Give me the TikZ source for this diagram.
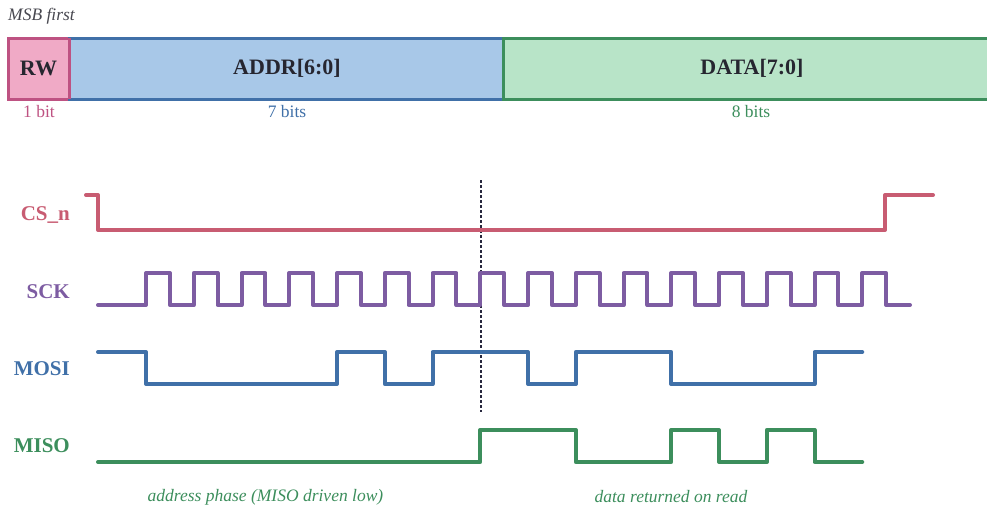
\documentclass[tikz,border=0pt]{standalone}
\usepackage{fontspec}
\setmainfont{Liberation Serif}
\begin{document}
\definecolor{csred}{RGB}{200,92,114}
\definecolor{rwline}{RGB}{190,82,130}
\definecolor{rwfill}{RGB}{240,170,198}
\definecolor{sckpurple}{RGB}{125,92,162}
\definecolor{mosiblue}{RGB}{64,112,168}
\definecolor{addrfill}{RGB}{168,200,232}
\definecolor{misogreen}{RGB}{60,142,92}
\definecolor{datafill}{RGB}{184,228,200}
\definecolor{marker}{RGB}{40,40,62}
\definecolor{inktext}{RGB}{38,38,48}
\begin{tikzpicture}[x=1pt,y=-1pt,
  field/.style={line width=3pt},
  fieldtext/.style={font=\fontsize{22}{26}\selectfont\bfseries, text=inktext},
  widthtext/.style={font=\fontsize{17.5}{21}\selectfont},
  siglabel/.style={anchor=base east, inner xsep=0pt, font=\fontsize{21}{25}\selectfont\bfseries},
  wave/.style={line width=4pt, line join=round, line cap=round},
  phasetext/.style={font=\fontsize{17.5}{21}\selectfont\itshape, text=misogreen}]
\clip (0,0) rectangle (987,509);

% frame layout: RW | ADDR[6:0] | DATA[7:0]
\node[anchor=west, inner xsep=0pt, font=\fontsize{17.5}{21}\selectfont\itshape, text=inktext!85] (msb) at (8,16) {MSB first};
\draw[field, draw=rwline, fill=rwfill] (8,38) rectangle (69,99);
\draw[field, draw=mosiblue, fill=addrfill] (69,38) rectangle (503,99);
\draw[field, draw=misogreen, fill=datafill] (503,38) rectangle (999,99);
\draw[field, draw=rwline] (69,38) -- (69,99);
\node[fieldtext] (rw) at (38.5,68.5) {RW};
\node[fieldtext] (addr) at (287,68.5) {ADDR[6:0]};
\node[fieldtext] (data) at (752,68.5) {DATA[7:0]};
\node[widthtext, text=rwline] (w1) at (39,112) {1 bit};
\node[widthtext, text=mosiblue] (w7) at (287,112) {7 bits};
\node[widthtext, text=misogreen] (w8) at (751,112) {8 bits};

% signal names
\node[siglabel, text=csred] (cs) at (70,220) {CS\_n};
\node[siglabel, text=sckpurple] (sck) at (70,298) {SCK};
\node[siglabel, text=mosiblue] (mosi) at (70,375) {MOSI};
\node[siglabel, text=misogreen] (miso) at (70,452.5) {MISO};

% phase boundary
\draw[marker, line width=2pt, dash pattern=on 3pt off 2pt] (481,180) -- (481,412);

% CS_n: active low for the whole transfer
\draw[wave, csred] (86,195) -- (98,195) -- (98,230) -- (885,230) -- (885,195) -- (933,195);

% SCK: 16 clock pulses
\draw[wave, sckpurple] (98,305)
  foreach \k in {0,...,15} { -- ({146+47.75*\k},305) -- ++(0,-32) -- ++(23.875,0) -- ++(0,32) }
  -- (910,305);

% MOSI
\draw[wave, mosiblue] (98,352) -- (146,352) -- (146,384) -- (337,384) -- (337,352)
  -- (384.75,352) -- (384.75,384) -- (432.5,384) -- (432.5,352) -- (528,352) -- (528,384)
  -- (575.75,384) -- (575.75,352) -- (671.25,352) -- (671.25,384) -- (814.5,384)
  -- (814.5,352) -- (862.25,352);

% MISO
\draw[wave, misogreen] (98,462) -- (480.25,462) -- (480.25,430) -- (575.75,430)
  -- (575.75,462) -- (671.25,462) -- (671.25,430) -- (719,430) -- (719,462)
  -- (766.75,462) -- (766.75,430) -- (814.5,430) -- (814.5,462) -- (862.25,462);

% phase captions
\node[phasetext] (addrphase) at (265.5,497) {address phase (MISO driven low)};
\node[phasetext] (dataphase) at (671,497) {data returned on read};
\end{tikzpicture}
\end{document}
